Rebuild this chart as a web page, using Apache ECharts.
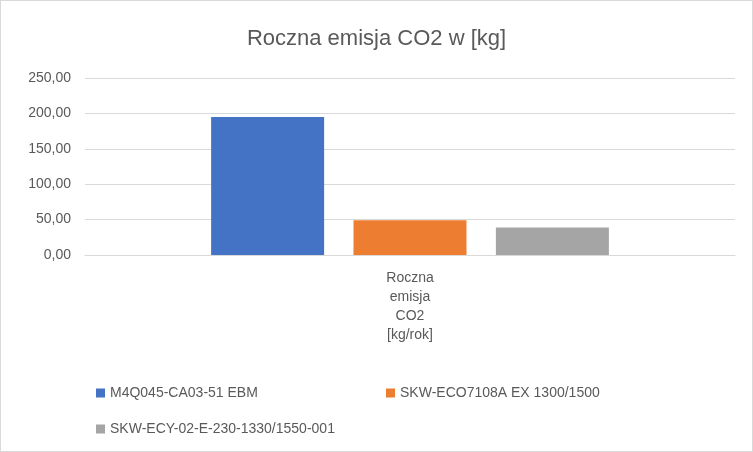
<!DOCTYPE html>
<html><head><meta charset="utf-8">
<script src="https://cdn.jsdelivr.net/npm/echarts@6/dist/echarts.min.js"></script>
<style>html,body{margin:0;padding:0;background:#fff}#c{width:751px;height:450px;border:1px solid #d9d9d9}</style>
</head><body><div id="c"></div>
<script>
const categories = ['Roczna\nemisja\nCO2\n[kg/rok]'];
const seriesNames = ['M4Q045-CA03-51 EBM', 'SKW-ECO7108A EX 1300/1500', 'SKW-ECY-02-E-230-1330/1550-001'];
const values = [[195], [49], [39]];
const colors = ['#4472c4', '#ed7d31', '#a5a5a5'];
const chart = echarts.init(document.getElementById('c'));
const font = 'Liberation Sans, Arial, sans-serif';
const leg = (names, left, top) => ({data: names, left, top, orient: 'horizontal', itemWidth: 9, itemHeight: 9, icon: 'rect', itemGap: 40,
  textStyle: {color: '#595959', fontSize: 14, fontFamily: font}});
chart.setOption({
  animation: false,
  title: {text: 'Roczna emisja CO2 w [kg]', left: 'center', top: 22, textStyle: {color: '#595959', fontSize: 22, fontWeight: 'normal', fontFamily: font}},
  grid: {left: 84, right: 17, top: 77, bottom: 196},
  legend: [leg([seriesNames[0]], 90, 380), leg([seriesNames[1]], 380, 380), leg([seriesNames[2]], 90, 416)],
  xAxis: {type: 'category', data: categories, axisTick: {show: false}, axisLine: {lineStyle: {color: '#d9d9d9'}},
    axisLabel: {color: '#595959', fontSize: 14, fontFamily: font, lineHeight: 19, margin: 14}},
  yAxis: {type: 'value', min: 0, max: 250, interval: 50, axisLine: {show: false}, axisTick: {show: false},
    splitLine: {lineStyle: {color: '#d9d9d9'}},
    axisLabel: {color: '#595959', fontSize: 14, fontFamily: font, margin: 14, formatter: v => v.toFixed(2).replace('.', ',')}},
  series: seriesNames.map((n, i) => ({name: n, type: 'bar', data: values[i], barWidth: 113, barGap: '26%', itemStyle: {color: colors[i]}}))
});
</script></body></html>
